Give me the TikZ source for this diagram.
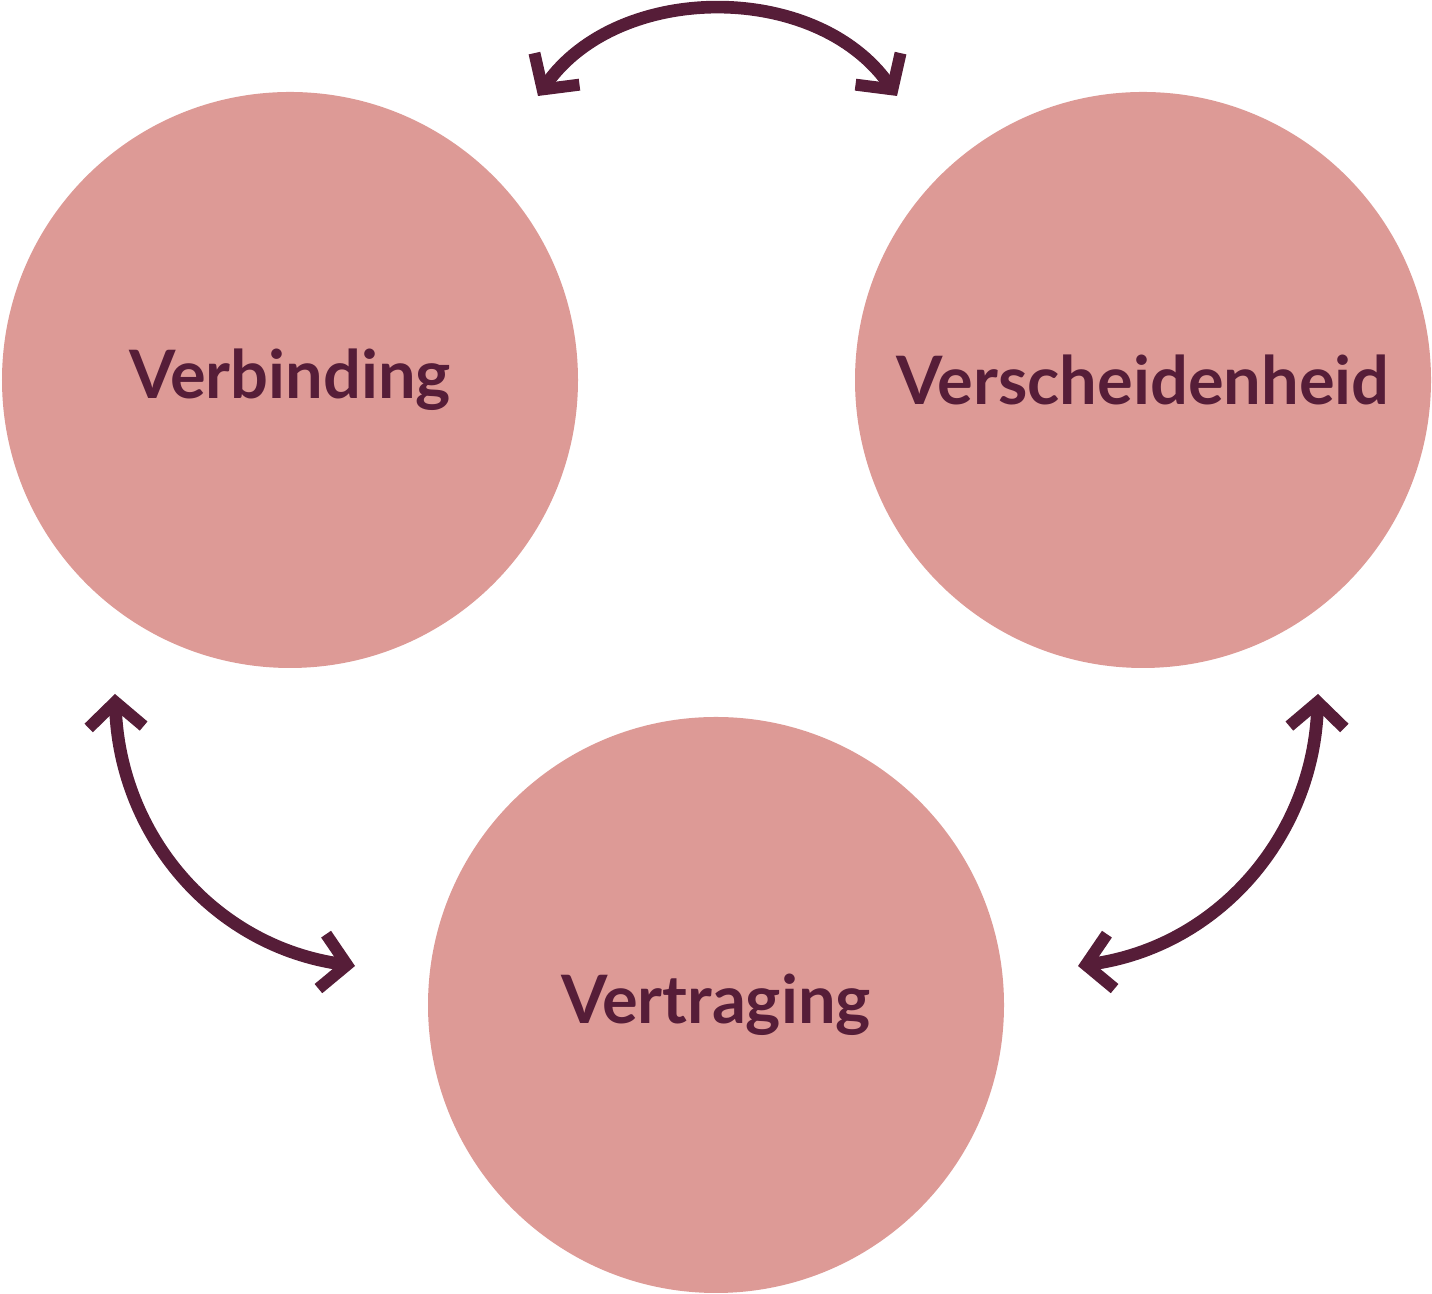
\documentclass[tikz,border=0pt]{standalone}
\usepackage{fontspec}
\setmainfont{Lato}
\usetikzlibrary{arrows.meta}
\definecolor{rose}{HTML}{DD9A96}
\definecolor{plum}{HTML}{561D38}
\tikzset{
  blob/.style={circle, fill=rose, minimum size=5.76cm, inner sep=0pt,
    text=plum, font=\fontsize{19}{23}\selectfont\bfseries},
  swap/.style={plum, line width=3.6pt, line cap=round,
    {Straight Barb[length=2.5mm,width=5.5mm,line width=3.4pt]}-{Straight Barb[length=2.5mm,width=5.5mm,line width=3.4pt]}}
}
\begin{document}
\begin{tikzpicture}
  \useasboundingbox (0,0) rectangle (14.32,12.94);
  \node[blob] (verb) at (2.90,9.14) {Verbinding};
  \node[blob] (vers) at (11.43,9.14) {Verscheidenheid};
  \node[blob] (vert) at (7.16,2.89) {Vertraging};

  % arrows between the circles
  \coordinate (t1) at (5.38,11.98);
  \coordinate (t2) at (8.97,11.98);
  \coordinate (l1) at (1.15,6.00);
  \coordinate (l2) at (3.55,3.28);
  \coordinate (r1) at (13.18,6.00);
  \coordinate (r2) at (10.78,3.28);
  \draw[swap] (t1) to[out=55,in=125] (t2);
  \draw[swap] (l1) to[out=-88,in=172] (l2);
  \draw[swap] (r1) to[out=-92,in=8] (r2);
\end{tikzpicture}
\end{document}
